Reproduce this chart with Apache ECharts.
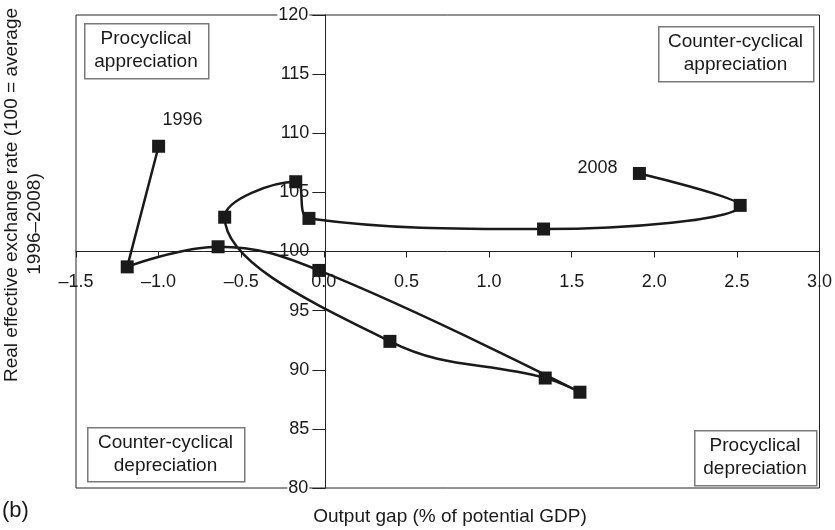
<!DOCTYPE html>
<html>
<head>
<meta charset="utf-8">
<script src="https://cdn.jsdelivr.net/npm/echarts@6/dist/echarts.min.js"></script>
<style>
html,body{margin:0;padding:0;background:#fff;}
#chart{width:835px;height:530px;}
</style>
</head>
<body>
<div id="chart"></div>
<script>
// ---- data ----
const years = ['1996','1997','1998','1999','2000','2001','2002','2003','2004','2005','2006','2007','2008'];
const outputGap = [-1.00, -1.19, -0.64, -0.03, 1.55, 1.34, 0.40, -0.60, -0.17, -0.09, 1.33, 2.52, 1.91];
const reer = [108.9, 98.7, 100.4, 98.4, 88.1, 89.3, 92.4, 102.9, 105.9, 102.8, 101.9, 103.9, 106.6];
const labelledYears = ['1996', '2008'];
const xTicks = {min: -1.5, max: 3.0, step: 0.5};
const yTicks = {min: 80, max: 120, step: 5};
const quadrantLabels = [
  ['Procyclical', 'appreciation'],
  ['Counter-cyclical', 'appreciation'],
  ['Counter-cyclical', 'depreciation'],
  ['Procyclical', 'depreciation']
];
const xTitle = 'Output gap (% of potential GDP)';
const yTitle = ['Real effective exchange rate (100 = average', '1996\u20132008)'];
const panelTag = '(b)';

// ---- layout / styles ----
const FONT = '"Liberation Sans", Arial, sans-serif';
const INK = '#1a1a1a';
const G = {left: 76, top: 15, width: 748, height: 473};
const yearLabelOffsets = {'1996': [24, -26], '2008': [-42, -5]};
const boxes = [
  {x: 84, y: 23, w: 124, h: 55},
  {x: 658, y: 26, w: 155, h: 55},
  {x: 87, y: 427, w: 157, h: 54},
  {x: 694, y: 430, w: 122, h: 55}
];

const chart = echarts.init(document.getElementById('chart'));

const seriesData = outputGap.map((x, i) => {
  const item = {value: [x, reer[i]]};
  if (labelledYears.includes(years[i])) {
    item.label = {
      show: true, position: 'inside', offset: yearLabelOffsets[years[i]],
      formatter: years[i], color: INK, fontSize: 18, fontFamily: FONT
    };
  }
  return item;
});

const graphics = [];
boxes.forEach((b, i) => {
  graphics.push({
    type: 'rect', left: b.x, top: b.y, z: 50,
    shape: {width: b.w, height: b.h},
    style: {fill: '#fff', stroke: '#7a7a7a', lineWidth: 1.5}
  });
  graphics.push({
    type: 'text', z: 51, x: b.x + b.w / 2, y: b.y + b.h / 2,
    style: {
      text: quadrantLabels[i].join('\n'), fill: INK, font: '19px ' + FONT,
      textAlign: 'center', textVerticalAlign: 'middle', lineHeight: 23
    }
  });
});
graphics.push({
  type: 'text', x: 12, y: 195, rotation: Math.PI / 2,
  style: {text: yTitle[0], fill: INK, font: '19px ' + FONT, textAlign: 'center', textVerticalAlign: 'middle'}
});
graphics.push({
  type: 'text', x: 35, y: 224, rotation: Math.PI / 2,
  style: {text: yTitle[1], fill: INK, font: '19px ' + FONT, textAlign: 'center', textVerticalAlign: 'middle'}
});
graphics.push({
  type: 'text', x: 450, y: 517,
  style: {text: xTitle, fill: INK, font: '19px ' + FONT, textAlign: 'center', textVerticalAlign: 'middle'}
});
graphics.push({
  type: 'text', x: 2, y: 511,
  style: {text: panelTag, fill: INK, font: '22px ' + FONT, textAlign: 'left', textVerticalAlign: 'middle'}
});

const fmtX = v => v.toFixed(1).replace('-', '\u2013');

chart.setOption({
  animation: false,
  backgroundColor: '#fff',
  grid: {left: G.left, top: G.top, width: G.width, height: G.height,
         show: true, borderColor: '#222', borderWidth: 1, backgroundColor: 'transparent'},
  xAxis: {
    type: 'value', min: xTicks.min, max: xTicks.max, interval: xTicks.step,
    position: 'bottom', offset: -(G.height * (100 - yTicks.min) / (yTicks.max - yTicks.min)),
    axisLine: {onZero: false, lineStyle: {color: '#222', width: 1}},
    axisTick: {show: true, inside: false, length: 6, lineStyle: {color: '#222'}},
    axisLabel: {formatter: fmtX, color: INK, fontSize: 18, fontFamily: FONT, margin: 22},
    splitLine: {show: false}
  },
  yAxis: {
    type: 'value', min: yTicks.min, max: yTicks.max, interval: yTicks.step,
    position: 'left', offset: -(G.width * (0 - xTicks.min) / (xTicks.max - xTicks.min)),
    axisLine: {onZero: false, lineStyle: {color: '#222', width: 1}},
    axisTick: {show: true, inside: false, length: 13, lineStyle: {color: '#222'}},
    axisLabel: {
      color: INK, fontSize: 18, fontFamily: FONT, margin: 16,
      formatter: v => (v === yTicks.max || v === yTicks.min) ? '{w|' + v + '}' : String(v),
      rich: {w: {backgroundColor: '#fff', color: INK, fontSize: 18, fontFamily: FONT, padding: [0, 1]}}
    },
    splitLine: {show: false}
  },
  series: [{
    type: 'line',
    data: seriesData,
    smooth: 0.4,
    smoothConstraint: false,
    symbol: 'rect',
    symbolSize: 13,
    itemStyle: {color: INK},
    lineStyle: {color: INK, width: 2.5},
    z: 10
  }],
  graphic: graphics
});
</script>
</body>
</html>
